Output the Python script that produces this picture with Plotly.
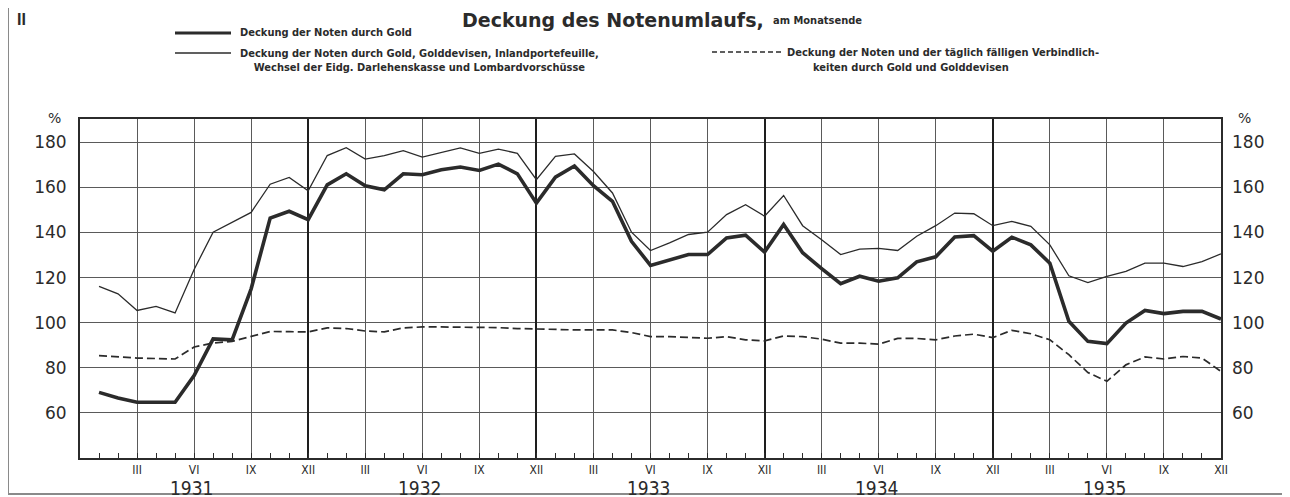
import plotly.graph_objects as go

# ---------------- data ----------------
# month index: 1 = Jan 1931 ... 60 = Dec 1935 (0 = Dec 1930, left edge)
months = list(range(1, 61))
years = ["1931", "1932", "1933", "1934", "1935"]
quarter_labels = ["III", "VI", "IX", "XII"]
y_ticks = [60, 80, 100, 120, 140, 160, 180]

gold = [
    69.1, 66.6, 64.7, 64.7, 64.7, 76.5, 92.8, 92.4, 115.0, 146.4, 149.4, 145.7,
    161.1, 166.0, 160.7, 158.9, 166.0, 165.6, 167.8, 169.0, 167.5, 170.3, 166.0, 153.0,
    164.5, 169.5, 160.7, 153.8, 136.1, 125.4, 128.0, 130.2, 130.2, 137.6, 138.8, 131.3,
    143.5, 131.0, 124.0, 117.3, 120.6, 118.4, 119.9, 127.0, 129.2, 138.0, 138.6, 131.7,
    137.9, 134.5, 126.4, 100.6, 91.7, 90.7, 99.8, 105.4, 104.0, 105.0, 105.0, 101.6,
]
gold_total = [
    116.1, 112.8, 105.4, 107.2, 104.3, 123.6, 140.1, 144.5, 148.9, 161.4, 164.4, 158.5,
    174.1, 177.6, 172.5, 174.1, 176.3, 173.4, 175.4, 177.5, 175.1, 176.9, 175.1, 163.4,
    173.7, 174.8, 167.0, 157.5, 140.1, 132.0, 135.4, 139.1, 140.1, 147.9, 152.3, 147.2,
    156.4, 143.0, 136.8, 130.2, 132.6, 132.9, 132.0, 138.3, 143.0, 148.6, 148.3, 143.0,
    144.9, 142.7, 134.5, 120.8, 117.8, 120.5, 122.7, 126.4, 126.4, 124.9, 127.1, 130.5,
]
notes_liab = [
    85.4, 84.8, 84.3, 84.1, 83.9, 89.2, 91.0, 91.7, 93.9, 96.1, 96.0, 95.9,
    97.7, 97.4, 96.3, 95.9, 97.7, 98.1, 98.1, 98.1, 98.1, 97.8, 97.4, 97.1,
    97.1, 96.8, 96.8, 96.8, 95.6, 93.8, 93.8, 93.4, 93.1, 93.8, 92.4, 91.9,
    94.1, 93.8, 92.7, 90.9, 90.9, 90.5, 93.0, 93.0, 92.4, 94.1, 94.9, 93.4,
    96.6, 95.1, 92.4, 85.8, 77.9, 74.0, 81.3, 84.8, 83.9, 85.0, 84.3, 78.4,
]

# ---------------- layout helpers ----------------
W, H = 1290, 497
OFF = 8                      # page body margin of the browser
L, R, T, B = 80, 1221, 119, 458   # plot area in page pixels


def px(x):
    return (x - L) / (R - L)


def py(y):
    return (B - y) / (B - T)


INK = "#2b2b2b"
GRID = "#5a5a5a"
NARROW = "Liberation Sans Narrow, Arial Narrow, DejaVu Sans Condensed, sans-serif"
NUMF = "DejaVu Sans, sans-serif"

fig = go.Figure()

fig.add_trace(go.Scatter(x=months, y=gold_total, mode="lines", xaxis="x", yaxis="y2",
                         line=dict(color=INK, width=1.3), showlegend=False, hoverinfo="skip"))
fig.add_trace(go.Scatter(x=months, y=notes_liab, mode="lines", xaxis="x2", yaxis="y",
                         line=dict(color=INK, width=1.7, dash="8px,4px"), showlegend=False,
                         hoverinfo="skip"))
fig.add_trace(go.Scatter(x=months, y=gold, mode="lines", xaxis="x", yaxis="y",
                         line=dict(color=INK, width=3.6), showlegend=False, hoverinfo="skip"))

quarter_vals = [m for m in months if m % 3 == 0]
quarter_text = [quarter_labels[(m // 3 - 1) % 4] for m in quarter_vals]
year_lines = [m for m in months if m % 12 == 0 and m < 60]

yr = [40, 190.3]

fig.update_layout(
    width=W, height=H, autosize=False,
    margin=dict(l=L - OFF, r=W - (R - OFF), t=T - OFF, b=H - (B - OFF)),
    paper_bgcolor="white", plot_bgcolor="white",
    xaxis=dict(range=[0, 60], tickmode="array", tickvals=quarter_vals, ticktext=quarter_text,
               showgrid=True, gridcolor=GRID, gridwidth=1, zeroline=False,
               showline=True, linecolor=INK, linewidth=2, mirror=True,
               ticks="inside", ticklen=5, tickcolor=INK, tickwidth=1,
               minor=dict(tickmode="array", tickvals=months, ticks="inside", ticklen=5,
                          tickcolor=INK, tickwidth=1, showgrid=False),
               tickfont=dict(family=NARROW, size=12, color=INK)),
    xaxis2=dict(range=[0, 60], overlaying="x", tickmode="array", tickvals=year_lines,
                showgrid=True, gridcolor="#1e1e1e", gridwidth=2.2, showticklabels=False,
                ticks="", zeroline=False, showline=False),
    yaxis=dict(range=yr, tickmode="array", tickvals=y_ticks, showgrid=True, gridcolor=GRID,
               gridwidth=1, zeroline=False, showline=True, linecolor=INK, linewidth=2,
               mirror=True, ticks="", ticklabelstandoff=8,
               tickfont=dict(family=NUMF, size=17, color=INK)),
    yaxis2=dict(range=yr, overlaying="y", side="right", tickmode="array", tickvals=y_ticks,
                showgrid=False, zeroline=False, showline=False, ticks="", ticklabelstandoff=10,
                tickfont=dict(family=NUMF, size=17, color=INK)),
)

ann = []
# year labels under the axis
for i, yname in enumerate(years):
    ann.append(dict(x=5.9 + 12 * i, y=py(488), xref="x", yref="paper", text=yname,
                    showarrow=False, font=dict(family=NARROW, size=19, color=INK),
                    xanchor="center", yanchor="middle"))
# percent signs
ann.append(dict(x=px(54), y=py(118), xref="paper", yref="paper", text="%", showarrow=False,
                font=dict(family=NUMF, size=14, color=INK), xanchor="center", yanchor="middle"))
ann.append(dict(x=px(1244), y=py(118), xref="paper", yref="paper", text="%", showarrow=False,
                font=dict(family=NUMF, size=14, color=INK), xanchor="center", yanchor="middle"))
# title
ann.append(dict(x=px(21), y=py(19), xref="paper", yref="paper", text="<b>II</b>", showarrow=False,
                font=dict(family="Liberation Sans, Arial, sans-serif", size=16, color=INK),
                xanchor="center", yanchor="middle"))
ann.append(dict(x=px(766), y=py(20), xref="paper", yref="paper",
                text="<b>Deckung des Notenumlaufs,</b>", showarrow=False,
                font=dict(family="DejaVu Sans, sans-serif", size=19, color=INK),
                xanchor="right", yanchor="middle"))
ann.append(dict(x=px(771), y=py(21), xref="paper", yref="paper", text="<b>am Monatsende</b>",
                showarrow=False, font=dict(family=NARROW, size=11, color=INK),
                xanchor="left", yanchor="middle"))
# legend texts
LF = dict(family=NARROW, size=11, color=INK)
ann.append(dict(x=px(238), y=py(33), xref="paper", yref="paper",
                text="<b>Deckung der Noten durch Gold</b>", showarrow=False, font=LF,
                xanchor="left", yanchor="middle"))
ann.append(dict(x=px(238), y=py(60), xref="paper", yref="paper",
                text="<b>Deckung der Noten durch Gold, Golddevisen, Inlandportefeuille,</b><br>"
                     "<b>Wechsel der Eidg. Darlehenskasse und Lombardvorschüsse</b>",
                showarrow=False, font=LF, align="center", xanchor="left", yanchor="middle"))
ann.append(dict(x=px(785), y=py(52), xref="paper", yref="paper",
                text="<b>Deckung der Noten und der täglich fälligen Verbindlich-</b>",
                showarrow=False, font=LF, xanchor="left", yanchor="middle"))
ann.append(dict(x=px(811), y=py(68), xref="paper", yref="paper",
                text="<b>keiten durch Gold und Golddevisen</b>",
                showarrow=False, font=LF, xanchor="left", yanchor="middle"))
fig.update_layout(annotations=ann)

shapes = [
    # legend samples
    dict(type="line", xref="paper", yref="paper", x0=px(175), x1=px(231), y0=py(33), y1=py(33),
         line=dict(color=INK, width=3)),
    dict(type="line", xref="paper", yref="paper", x0=px(175), x1=px(231), y0=py(53), y1=py(53),
         line=dict(color=INK, width=1.3)),
    dict(type="line", xref="paper", yref="paper", x0=px(712), x1=px(781), y0=py(52), y1=py(52),
         line=dict(color=INK, width=1.5, dash="5px,3px")),
    # outer frame of the page
    dict(type="rect", xref="paper", yref="paper", x0=px(8), x1=px(1300), y0=py(494), y1=py(4),
         line=dict(color="#8a8a8a", width=2), layer="below"),
]
fig.update_layout(shapes=shapes)

fig.write_html("out.html")
